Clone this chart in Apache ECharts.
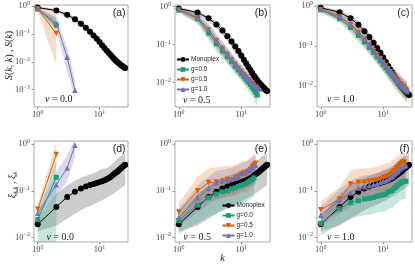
<!DOCTYPE html>
<html><head><meta charset="utf-8">
<script src="https://cdn.jsdelivr.net/npm/echarts@6/dist/echarts.min.js"></script>
<style>html,body{margin:0;padding:0;background:#fff}#c{width:415px;height:268px}</style>
</head><body><div id="c"></div><script>
// ---------- data ----------
const K2 = [1, 2];
const K4 = [1, 2, 3, 4];
const K16 = [1,2,3,4,5,6,7,8,9,10,11,12,13,14,15,16];
const K17 = [1,2,3,4,5,6,7,8,9,10,11,12,13,14,15,16,17];
const K18 = [1,2,3,4,5,6,7,8,9,10,11,12,13,14,15,16,17,18];
const K20 = [1,2,3,4,5,6,7,8,9,10,11,12,13,14,15,16,17,18,19,20];
const K22 = [1,2,3,4,5,6,7,8,9,10,11,12,13,14,15,16,17,18,19,20,21,22];
const K23 = [1,2,3,4,5,6,7,8,9,10,11,12,13,14,15,16,17,18,19,20,21,22,23];
const K24 = [1,2,3,4,5,6,7,8,9,10,11,12,13,14,15,16,17,18,19,20,21,22,23,24];
const K26 = [1,2,3,4,5,6,7,8,9,10,11,12,13,14,15,16,17,18,19,20,21,22,23,24,25,26];

const seriesNames = ['Monoplex', 'g=0.0', 'g=0.5', 'g=1.0'];
const nuLabels = ['0.0', '0.5', '1.0', '0.0', '0.5', '1.0'];
const panelLabels = ['(a)', '(b)', '(c)', '(d)', '(e)', '(f)'];

// Monoplex S(k)
const monoS   = [0.891,0.692,0.490,0.339,0.234,0.166,0.120,0.0891,0.0676,0.0513,0.0398,0.0316,0.0257,0.0214,0.0178,0.0151,0.0132,0.0115,0.0102,0.00933,0.00851,0.00776,0.00724,0.00676,0.00631,0.00603];
const monoSLo = [0.80,0.60,0.41,0.27,0.18,0.125,0.088,0.064,0.048,0.036,0.028,0.022,0.018,0.015,0.0125,0.0107,0.0094,0.0083,0.0074,0.0068,0.0062,0.0057,0.0053,0.0050,0.0047,0.0045];
const monoSHi = [0.97,0.78,0.57,0.41,0.29,0.21,0.155,0.117,0.089,0.068,0.053,0.042,0.034,0.028,0.023,0.0198,0.0172,0.015,0.0133,0.0121,0.011,0.0101,0.0094,0.0087,0.0082,0.0078];
// Monoplex xi(k)
const monoXi   = [0.019,0.045,0.074,0.095,0.112,0.123,0.133,0.140,0.147,0.154,0.161,0.168,0.177,0.187,0.199,0.212,0.226,0.240,0.255,0.270,0.286,0.302,0.318,0.334,0.350,0.365];
const monoXiLo = [0.0135,0.018,0.025,0.032,0.038,0.043,0.047,0.051,0.055,0.059,0.063,0.067,0.071,0.075,0.079,0.083,0.088,0.093,0.098,0.103,0.108,0.113,0.118,0.123,0.128,0.133];
const monoXiHi = [0.026,0.085,0.13,0.165,0.19,0.21,0.225,0.24,0.255,0.275,0.29,0.30,0.31,0.33,0.35,0.38,0.41,0.44,0.47,0.50,0.53,0.56,0.58,0.60,0.62,0.64];

// (a) nu=0.0, S
const aS0 = [0.80, 0.21], aS0Lo = [0.72, 0.16], aS0Hi = [0.88, 0.36];
const aS5 = [0.78, 0.105], aS5Lo = [0.68, 0.0072], aS5Hi = [0.88, 0.55];
const aS1 = [0.80, 0.24, 0.0147, 0.00095], aS1Lo = [0.72, 0.14, 0.0045, 0.00047], aS1Hi = [0.88, 0.40, 0.035, 0.0023];

// (b) nu=0.5, S
const bS0   = [0.813,0.479,0.200,0.105,0.0676,0.0479,0.0355,0.0269,0.0214,0.0174,0.0145,0.0123,0.0105,0.0089,0.0076,0.0065,0.0055,0.0047];
const bS0Lo = [0.708,0.364,0.132,0.0663,0.0427,0.0302,0.0224,0.0170,0.0135,0.0110,0.00874,0.00742,0.00604,0.00512,0.00418,0.00358,0.00289,0.00235];
const bS0Hi = [0.908,0.597,0.279,0.152,0.0977,0.0692,0.0513,0.0389,0.0309,0.0251,0.0218,0.0185,0.0163,0.0138,0.0123,0.0105,0.0092,0.0082];
const bS5   = [0.813,0.501,0.240,0.126,0.0794,0.0550,0.0398,0.0302,0.0240,0.0195,0.0162,0.0138,0.0120,0.0107,0.0095,0.0085,0.0078,0.0071];
const bS5Lo = [0.70,0.37,0.16,0.080,0.050,0.034,0.025,0.019,0.015,0.012,0.0098,0.0083,0.0070,0.0062,0.0054,0.0047,0.0042,0.0037];
const bS5Hi = [0.91,0.63,0.34,0.18,0.115,0.080,0.058,0.044,0.035,0.028,0.024,0.020,0.018,0.016,0.0145,0.013,0.012,0.011];
const bS1   = [0.832,0.525,0.251,0.132,0.0832,0.0575,0.0417,0.0316,0.0251,0.0204,0.0170,0.0145,0.0126,0.0110,0.0098,0.0089,0.0081,0.0076,0.0071,0.0068];
const bS1Lo = [0.72,0.39,0.17,0.085,0.053,0.036,0.026,0.020,0.016,0.013,0.0107,0.0090,0.0078,0.0067,0.0059,0.0053,0.0048,0.0044,0.0041,0.0039];
const bS1Hi = [0.93,0.66,0.36,0.19,0.12,0.083,0.061,0.046,0.036,0.030,0.025,0.021,0.018,0.016,0.0145,0.013,0.012,0.0113,0.0107,0.0102];

// (c) nu=1.0, S
const cS0   = [0.794,0.479,0.288,0.182,0.126,0.0912,0.0692,0.0537,0.0427,0.0347,0.0288,0.0245,0.0209,0.0182,0.0158,0.0141,0.0126,0.0115,0.0105,0.0095,0.0089,0.0083,0.0078,0.0072];
const cS0Lo = [0.70,0.38,0.21,0.125,0.085,0.060,0.045,0.035,0.027,0.022,0.018,0.015,0.0128,0.011,0.0095,0.0084,0.0074,0.0067,0.0061,0.0055,0.0051,0.0047,0.0044,0.0040];
const cS0Hi = [0.88,0.58,0.37,0.25,0.175,0.13,0.098,0.076,0.061,0.050,0.042,0.035,0.030,0.026,0.023,0.0205,0.0185,0.0168,0.0154,0.0142,0.0132,0.0124,0.0116,0.0109];
const cS5   = [0.813,0.525,0.331,0.214,0.145,0.105,0.0776,0.0603,0.0479,0.0389,0.0324,0.0269,0.0229,0.0200,0.0174,0.0155,0.0138,0.0126,0.0115,0.0105,0.0098,0.0091,0.0085,0.0079];
const cS5Lo = [0.71,0.41,0.24,0.145,0.095,0.067,0.049,0.037,0.029,0.023,0.019,0.0155,0.013,0.0112,0.0096,0.0084,0.0074,0.0066,0.0059,0.0053,0.0048,0.0044,0.0040,0.0036];
const cS5Hi = [0.90,0.64,0.43,0.29,0.20,0.15,0.112,0.088,0.071,0.058,0.049,0.041,0.035,0.031,0.027,0.024,0.0215,0.0197,0.018,0.0166,0.0155,0.0145,0.0136,0.0128];
const cS1   = [0.813,0.550,0.355,0.229,0.155,0.110,0.0813,0.0617,0.0490,0.0398,0.0331,0.0275,0.0234,0.0204,0.0178,0.0158,0.0141,0.0129,0.0117,0.0107,0.0100,0.0093,0.0087,0.0081];
const cS1Lo = [0.72,0.44,0.27,0.165,0.108,0.075,0.055,0.041,0.032,0.026,0.021,0.0175,0.0147,0.0127,0.011,0.0097,0.0086,0.0078,0.0071,0.0064,0.0059,0.0055,0.0051,0.0047];
const cS1Hi = [0.90,0.67,0.46,0.31,0.215,0.155,0.118,0.090,0.072,0.059,0.050,0.042,0.036,0.031,0.027,0.024,0.022,0.020,0.018,0.0167,0.0156,0.0146,0.0137,0.0129];

// (d) nu=0.0, xi
const dX0 = [0.024, 0.195], dX0Lo = [0.004, 0.004], dX0Hi = [0.030, 0.45];
const dX5 = [0.040, 0.60], dX5Lo = [0.033, 0.34], dX5Hi = [0.050, 1.1];
const dX1 = [0.033, 0.135, 0.31, 0.95], dX1Lo = [0.028, 0.075, 0.16, 0.52], dX1Hi = [0.040, 0.26, 0.58, 1.3];

// (e) nu=0.5, xi
const eX0   = [0.023,0.049,0.071,0.085,0.095,0.100,0.110,0.116,0.125,0.130,0.137,0.145,0.155,0.165,0.175,0.190];
const eX0Lo = [0.012,0.020,0.028,0.033,0.037,0.040,0.043,0.046,0.049,0.052,0.055,0.058,0.062,0.066,0.07,0.075];
const eX0Hi = [0.035,0.085,0.13,0.15,0.16,0.17,0.18,0.19,0.21,0.22,0.23,0.25,0.27,0.29,0.31,0.34];
const eX5   = [0.035,0.100,0.150,0.155,0.160,0.175,0.170,0.190,0.205,0.225,0.240,0.225,0.260,0.290,0.330,0.360,0.390];
const eX5Lo = [0.02,0.04,0.06,0.065,0.07,0.075,0.075,0.08,0.085,0.09,0.095,0.09,0.10,0.11,0.12,0.13,0.14];
const eX5Hi = [0.055,0.2,0.3,0.32,0.33,0.35,0.34,0.37,0.39,0.42,0.45,0.43,0.48,0.52,0.56,0.60,0.65];
const eX1   = [0.027,0.071,0.112,0.150,0.160,0.170,0.180,0.190,0.205,0.235,0.240,0.260,0.280,0.290,0.320,0.345,0.360];
const eX1Lo = [0.017,0.035,0.05,0.065,0.07,0.075,0.08,0.085,0.09,0.1,0.1,0.11,0.12,0.12,0.13,0.14,0.15];
const eX1Hi = [0.04,0.13,0.2,0.27,0.28,0.3,0.31,0.33,0.35,0.39,0.4,0.43,0.46,0.48,0.52,0.55,0.58];

// (f) nu=1.0, xi
const fX0   = [0.020,0.041,0.056,0.061,0.067,0.069,0.072,0.077,0.080,0.082,0.085,0.095,0.098,0.102,0.114,0.120,0.130,0.140,0.147,0.155,0.160,0.160,0.160];
const fX0Lo = [0.011,0.019,0.025,0.028,0.030,0.031,0.032,0.034,0.035,0.036,0.037,0.040,0.042,0.044,0.048,0.051,0.055,0.059,0.062,0.065,0.067,0.067,0.067];
const fX0Hi = [0.03,0.075,0.1,0.11,0.12,0.125,0.13,0.135,0.14,0.145,0.15,0.165,0.17,0.18,0.2,0.21,0.225,0.24,0.25,0.26,0.27,0.27,0.27];
const fX5   = [0.039,0.066,0.140,0.152,0.152,0.160,0.165,0.170,0.180,0.195,0.200,0.210,0.230,0.250,0.270,0.300,0.320,0.350,0.380,0.410,0.410,0.410];
const fX5Lo = [0.022,0.035,0.065,0.07,0.07,0.074,0.076,0.078,0.082,0.088,0.09,0.095,0.1,0.11,0.12,0.13,0.14,0.15,0.16,0.17,0.17,0.17];
const fX5Hi = [0.06,0.12,0.27,0.3,0.3,0.31,0.32,0.33,0.35,0.37,0.38,0.4,0.43,0.46,0.49,0.53,0.56,0.6,0.64,0.68,0.68,0.68];
const fX1   = [0.030,0.063,0.091,0.115,0.122,0.128,0.135,0.140,0.150,0.160,0.165,0.175,0.190,0.200,0.220,0.240,0.260,0.280,0.300,0.320,0.330,0.340,0.350];
const fX1Lo = [0.018,0.032,0.045,0.055,0.058,0.06,0.063,0.065,0.07,0.074,0.076,0.08,0.086,0.09,0.098,0.106,0.114,0.122,0.13,0.138,0.142,0.146,0.15];
const fX1Hi = [0.045,0.11,0.16,0.2,0.21,0.22,0.23,0.24,0.26,0.27,0.28,0.3,0.32,0.34,0.37,0.4,0.43,0.46,0.49,0.52,0.54,0.55,0.56];

// ---------- layout / style ----------
const panels = [
  {mono:[K26, monoS, monoSLo, monoSHi], g:[[K2, aS0, aS0Lo, aS0Hi], [K2, aS5, aS5Lo, aS5Hi], [K4, aS1, aS1Lo, aS1Hi]]},
  {mono:[K26, monoS, monoSLo, monoSHi], g:[[K18, bS0, bS0Lo, bS0Hi], [K18, bS5, bS5Lo, bS5Hi], [K20, bS1, bS1Lo, bS1Hi]]},
  {mono:[K26, monoS, monoSLo, monoSHi], g:[[K24, cS0, cS0Lo, cS0Hi], [K24, cS5, cS5Lo, cS5Hi], [K24, cS1, cS1Lo, cS1Hi]]},
  {mono:[K26, monoXi, monoXiLo, monoXiHi], g:[[K2, dX0, dX0Lo, dX0Hi], [K2, dX5, dX5Lo, dX5Hi], [K4, dX1, dX1Lo, dX1Hi]]},
  {mono:[K26, monoXi, monoXiLo, monoXiHi], g:[[K16, eX0, eX0Lo, eX0Hi], [K17, eX5, eX5Lo, eX5Hi], [K17, eX1, eX1Lo, eX1Hi]]},
  {mono:[K26, monoXi, monoXiLo, monoXiHi], g:[[K23, fX0, fX0Lo, fX0Hi], [K22, fX5, fX5Lo, fX5Hi], [K23, fX1, fX1Lo, fX1Hi]]}
];
const gridBoxes = [
  {left:34, top:5, width:94, height:102},
  {left:175, top:5, width:95, height:102},
  {left:317, top:5, width:95, height:102},
  {left:34, top:141, width:94, height:101},
  {left:175, top:141, width:95, height:101},
  {left:317, top:141, width:95, height:101}
];
const yExp = [[-3.62, 0.04], [-2.64, 0.04], [-2.52, 0.02], [-2.1, 0.07], [-2.1, 0.07], [-2.1, 0.07]];
const xExp = [-0.06, 1.46];
const nuPos = [[45, 99.5], [183, 100], [327, 99.5], [46.5, 237.3], [183.3, 237.3], [327, 237.3]];

const colors = ['#000000', '#1b9e77', '#d95f02', '#7570b3'];
const symbols = ['circle', 'rect', 'triangle', 'triangle'];
const symRot = [0, 0, 180, 0];
const symSize = [6, 5, 5.5, 5.5];
const bandColors = ['rgba(0,0,0,0.2)', 'rgba(27,158,119,0.25)', 'rgba(217,95,2,0.22)', 'rgba(117,112,179,0.26)'];

const SERIF = '"Liberation Serif", "DejaVu Serif", serif';
const SANS = '"Liberation Sans", Arial, sans-serif';

function logFmt(v) {
  const l = Math.log10(v), n = Math.round(l);
  if (Math.abs(l - n) > 1e-6) return '';
  return '{b|10}{s|' + (n < 0 ? '\u2212' + (-n) : n) + '}';
}
const tickRich = {
  b: {fontFamily: SERIF, fontSize: 8.5, color: '#444', lineHeight: 11},
  s: {fontFamily: SERIF, fontSize: 6, color: '#444', verticalAlign: 'top', lineHeight: 7}
};

function bandSeries(i, k, lo, hi, color) {
  return {
    type: 'custom', xAxisIndex: i, yAxisIndex: i, silent: true, z: 1, clip: true,
    data: k.map((x, n) => [x, lo[n], hi[n]]),
    encode: {x: 0, y: [1, 2]},
    renderItem: function (params, api) {
      if (params.dataIndex !== 0) return null;
      const up = k.map((x, n) => api.coord([x, hi[n]]));
      const dn = k.map((x, n) => api.coord([x, lo[n]])).reverse();
      return {type: 'polygon', shape: {points: up.concat(dn)}, style: {fill: color}};
    }
  };
}

const grid = [], xAxis = [], yAxis = [], series = [];
panels.forEach((p, i) => {
  grid.push(Object.assign({show: true, borderColor: '#aaa', borderWidth: 1, backgroundColor: 'transparent'}, gridBoxes[i]));
  xAxis.push({
    type: 'log', gridIndex: i, min: Math.pow(10, xExp[0]), max: Math.pow(10, xExp[1]),
    axisLine: {show: false}, splitLine: {show: false},
    axisTick: {show: true, length: 2.5, lineStyle: {color: '#999'}},
    axisLabel: {margin: 2, formatter: logFmt, rich: tickRich, showMinLabel: false, showMaxLabel: false}
  });
  yAxis.push({
    type: 'log', gridIndex: i, min: Math.pow(10, yExp[i][0]), max: Math.pow(10, yExp[i][1]),
    axisLine: {show: false}, splitLine: {show: false},
    axisTick: {show: true, length: 2.5, lineStyle: {color: '#999'}},
    axisLabel: {margin: 4, formatter: logFmt, rich: tickRich, showMinLabel: false, showMaxLabel: false}
  });
  const all = [p.mono].concat(p.g);
  all.forEach((s, j) => {
    const [k, v, lo, hi] = s;
    series.push(bandSeries(i, k, lo, hi, bandColors[j]));
  });
  all.forEach((s, j) => {
    const [k, v] = s;
    series.push({type: 'line', name: seriesNames[j], xAxisIndex: i, yAxisIndex: i, z: 3 + j,
      symbol: symbols[j], symbolSize: symSize[j], symbolRotate: symRot[j],
      lineStyle: {color: colors[j], width: 1}, itemStyle: {color: colors[j]},
      data: k.map((x, n) => [x, v[n]])});
  });
});

const graphic = [];
panels.forEach((p, i) => {
  const g = gridBoxes[i];
  graphic.push({type: 'text', x: g.left + g.width - 2.5, y: g.top + 8, z: 100,
    style: {text: panelLabels[i], fontFamily: SANS, fontSize: 10.5, fill: '#222', align: 'right', verticalAlign: 'middle', textAlign: 'right', textVerticalAlign: 'middle'}});
  graphic.push({type: 'text', x: nuPos[i][0], y: nuPos[i][1], z: 100,
    style: {text: '{i|\u03bd} = ' + nuLabels[i], fontFamily: SERIF, fontSize: 10, fill: '#222', align: 'left', verticalAlign: 'middle', textAlign: 'left', textVerticalAlign: 'middle',
      rich: {i: {fontFamily: SERIF, fontStyle: 'italic', fontSize: 10, fill: '#222'}}}});
});
graphic.push({type: 'text', x: 9.3, y: 55.5, rotation: Math.PI / 2, z: 100,
  style: {text: '{i|S}({i|k}, {i|k}) , {i|S}({i|k})', fontFamily: SERIF, fontSize: 10, fill: '#222', align: 'center', verticalAlign: 'middle', textAlign: 'center', textVerticalAlign: 'middle',
    rich: {i: {fontFamily: SERIF, fontStyle: 'italic', fontSize: 10, fill: '#222'}}}});
graphic.push({type: 'text', x: 12.3, y: 185, rotation: Math.PI / 2, z: 100,
  style: {text: '{i|\u03be}{sub|k,k} , {i|\u03be}{sub|k}', fontFamily: SERIF, fontSize: 10, fill: '#222', align: 'center', verticalAlign: 'middle', textAlign: 'center', textVerticalAlign: 'middle',
    rich: {i: {fontFamily: SERIF, fontStyle: 'italic', fontSize: 10, fill: '#222', lineHeight: 12},
           sub: {fontFamily: SERIF, fontStyle: 'italic', fontSize: 6.5, fill: '#222', verticalAlign: 'bottom', lineHeight: 6}}}});
graphic.push({type: 'text', x: 222.7, y: 258.7, z: 100,
  style: {text: 'k', fontFamily: SERIF, fontStyle: 'italic', fontSize: 10.5, fill: '#222', align: 'center', verticalAlign: 'middle', textAlign: 'center', textVerticalAlign: 'middle'}});

const legendBase = {orient: 'vertical', data: seriesNames, itemWidth: 12, itemHeight: 6, itemGap: 3,
  textStyle: {fontFamily: SANS, fontSize: 6.5, color: '#222', lineHeight: 7, padding: [0, 0, 0, -3]}, padding: 0};
const legend = [
  Object.assign({left: 176, top: 56}, legendBase),
  Object.assign({left: 221.5, top: 202}, legendBase)
];

const chart = echarts.init(document.getElementById('c'), null, {renderer: 'canvas'});
chart.setOption({animation: false, backgroundColor: '#fff', grid, xAxis, yAxis, series, legend, graphic});
</script></body></html>
